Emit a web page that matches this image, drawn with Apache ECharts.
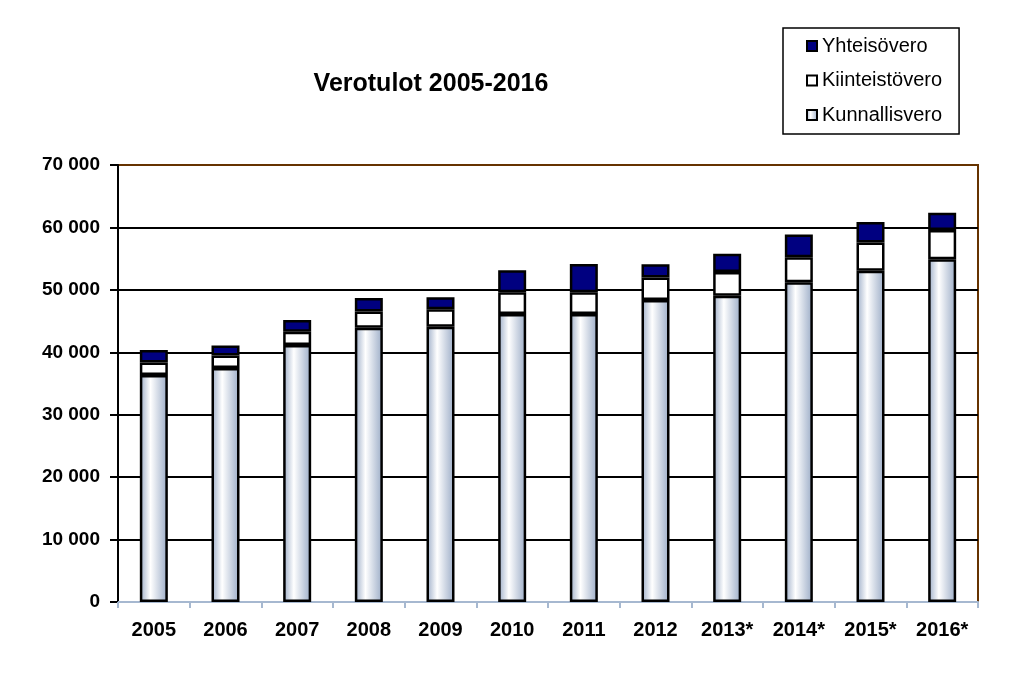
<!DOCTYPE html>
<html>
<head>
<meta charset="utf-8">
<script src="https://cdn.jsdelivr.net/npm/echarts@6/dist/echarts.min.js"></script>
<style>
html,body{margin:0;padding:0;background:#fff;}
#chart{width:1010px;height:695px;}
</style>
</head>
<body>
<div id="chart"></div>
<script>
var categories = ['2005','2006','2007','2008','2009','2010','2011','2012','2013*','2014*','2015*','2016*'];
var kunnallisvero = [36360, 37480, 41170, 43940, 44100, 46130, 46130, 48370, 49070, 51210, 53070, 54890];
var kiinteistovero = [2000, 2000, 2100, 2600, 2800, 3500, 3500, 3600, 3800, 4000, 4500, 4700];
var yhteisovero = [2000, 1600, 1900, 2150, 1900, 3500, 4500, 2150, 2900, 3650, 3300, 2750];
var seriesNames = ['Yhteisövero', 'Kiinteistövero', 'Kunnallisvero'];

var chart = echarts.init(document.getElementById('chart'));
var fontFam = '"Liberation Sans", Arial, sans-serif';
var grad = new echarts.graphic.LinearGradient(0, 0, 1, 0, [
  {offset: 0, color: '#9AABC6'},
  {offset: 0.38, color: '#FFFFFF'},
  {offset: 1, color: '#9AABC6'}
]);
function fmt(v){ return String(v).replace(/\B(?=(\d{3})+(?!\d))/g, ' '); }

chart.setOption({
  animation: false,
  backgroundColor: '#fff',
  title: {
    text: 'Verotulot 2005-2016',
    left: 426, top: 67, textAlign: 'center',
    textStyle: {fontFamily: fontFam, fontSize: 25, fontWeight: 'bold', color: '#000'}
  },
  legend: {
    data: seriesNames,
    orient: 'vertical',
    left: 783, top: 28,
    padding: [8, 17, 9, 23],
    itemGap: 14.5,
    itemWidth: 10, itemHeight: 10,
    borderColor: '#000', borderWidth: 1.5,
    backgroundColor: '#fff',
    textStyle: {fontFamily: fontFam, fontSize: 20, color: '#000'},
    icon: 'rect'
  },
  grid: {
    left: 118, right: 32, top: 165, bottom: 93,
    show: true, borderColor: '#663300', borderWidth: 2, backgroundColor: 'transparent'
  },
  xAxis: {
    type: 'category',
    data: categories,
    axisLine: {lineStyle: {color: '#A6B8D0', width: 2}},
    axisTick: {show: true, length: 6, lineStyle: {color: '#A6B8D0', width: 2}},
    axisLabel: {fontFamily: fontFam, fontSize: 20, fontWeight: 'bold', color: '#000', margin: 18}
  },
  yAxis: {
    type: 'value',
    min: 0, max: 70000, interval: 10000,
    axisLine: {show: true, lineStyle: {color: '#000', width: 2}},
    axisTick: {show: true, length: 8, lineStyle: {color: '#000', width: 2}},
    splitLine: {lineStyle: {color: ['#000','#000','#000','#000','#000','#000','#000','#663300'], width: 2}},
    axisLabel: {fontFamily: fontFam, fontSize: 19, fontWeight: 'bold', color: '#000', margin: 18, formatter: fmt}
  },
  series: [
    {
      name: 'Kunnallisvero', type: 'bar', stack: 'v', barWidth: 28,
      data: kunnallisvero,
      itemStyle: {color: grad, borderColor: '#000', borderWidth: 2.5}
    },
    {
      name: 'Kiinteistövero', type: 'bar', stack: 'v', barWidth: 28,
      data: kiinteistovero,
      itemStyle: {color: '#FFFFFF', borderColor: '#000', borderWidth: 2.5}
    },
    {
      name: 'Yhteisövero', type: 'bar', stack: 'v', barWidth: 28,
      data: yhteisovero,
      itemStyle: {color: '#000080', borderColor: '#000', borderWidth: 2.5}
    }
  ]
});
</script>
</body>
</html>
